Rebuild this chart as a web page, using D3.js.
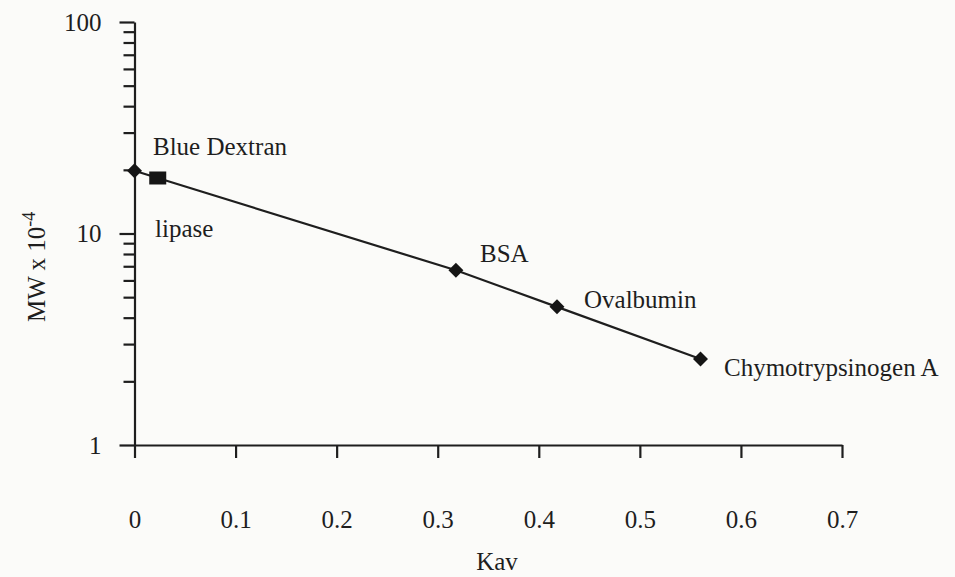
<!DOCTYPE html>
<html>
<head>
<meta charset="utf-8">
<script src="https://cdn.jsdelivr.net/npm/d3@7"></script>
<style>
  body { margin: 0; background: #fbfbf9; }
  text { font-family: "Liberation Serif", "DejaVu Serif", serif; fill: #1e1e1e; }
</style>
</head>
<body>
<div id="chart-area"></div>
<script>
// data
const proteins = ["Blue Dextran", "lipase", "BSA", "Ovalbumin", "Chymotrypsinogen A"];
const kav = [0, 0.023, 0.318, 0.418, 0.560];
const mw = [19.8, 18.3, 6.7, 4.5, 2.55];
const shapes = ["diamond", "square", "diamond", "diamond", "diamond"];
const xTicks = [0, 0.1, 0.2, 0.3, 0.4, 0.5, 0.6, 0.7];
const xTickLabels = ["0", "0.1", "0.2", "0.3", "0.4", "0.5", "0.6", "0.7"];
const yMajor = [1, 10, 100];
const yMinor = [2, 3, 4, 5, 6, 7, 8, 9, 20, 30, 40, 50, 60, 70, 80, 90];

const width = 955, height = 577;
const fs = "25px";

const svg = d3.select("#chart-area")
  .append("svg")
  .attr("width", width)
  .attr("height", height);

const x = d3.scaleLinear().domain([0, 0.7]).range([134.5, 842]);
const y = d3.scaleLog().domain([1, 100]).range([445, 22]);

// axes
const xAxis = svg.append("g")
  .attr("transform", "translate(0,445)")
  .call(d3.axisBottom(x).tickValues(xTicks).tickSize(13).tickSizeOuter(0)
    .tickFormat((d, i) => xTickLabels[i]));
xAxis.selectAll("text").attr("y", 83).attr("dy", "0").attr("font-size", fs);

const yMin = svg.append("g")
  .attr("transform", "translate(134.5,0)")
  .call(d3.axisLeft(y).tickValues(yMinor).tickSize(11).tickSizeOuter(0).tickFormat(""));
yMin.select(".domain").remove();

const yMaj = svg.append("g")
  .attr("transform", "translate(134.5,0)")
  .call(d3.axisLeft(y).tickValues(yMajor).tickSize(15).tickSizeOuter(0).tickFormat(d3.format("d")));
yMaj.selectAll("text").attr("x", -33).attr("dy", "0.33em").attr("font-size", fs);

svg.selectAll(".domain, .tick line")
  .attr("stroke", "#1e1e1e")
  .attr("stroke-width", 2.2);

// axis titles
svg.append("text")
  .attr("x", 497)
  .attr("y", 570)
  .attr("text-anchor", "middle")
  .attr("font-size", fs)
  .text("Kav");

const yTitle = svg.append("text")
  .attr("transform", "translate(45,322) rotate(-90)")
  .attr("font-size", fs);
yTitle.append("tspan").text("MW x 10");
yTitle.append("tspan").attr("dy", "-0.55em").attr("font-size", "18px").text("-4");

// line through the standards
const pts = kav.map((k, i) => ({ k: k, m: mw[i], name: proteins[i], shape: shapes[i] }));
const line = d3.line().x(d => x(d.k)).y(d => y(d.m));

svg.append("path")
  .attr("d", line(pts))
  .attr("fill", "none")
  .attr("stroke", "#1e1e1e")
  .attr("stroke-width", 2.2);

// markers
svg.selectAll(".marker")
  .data(pts)
  .enter()
  .append("path")
  .attr("class", "marker")
  .attr("transform", d => "translate(" + x(d.k) + "," + y(d.m) + ")" + (d.shape === "diamond" ? " rotate(45)" : ""))
  .attr("d", d => d.shape === "diamond"
    ? d3.symbol().type(d3.symbolSquare).size(112)()
    : "M-8.5,-6.5H8.5V6.5H-8.5Z")
  .attr("fill", "#151515");

// point labels
const labelPos = {
  "Blue Dextran": [153, 155],
  "lipase": [155, 237],
  "BSA": [480, 262],
  "Ovalbumin": [584, 308],
  "Chymotrypsinogen A": [724, 376]
};
svg.selectAll(".lbl")
  .data(pts)
  .enter()
  .append("text")
  .attr("class", "lbl")
  .attr("x", d => labelPos[d.name][0])
  .attr("y", d => labelPos[d.name][1])
  .attr("font-size", fs)
  .text(d => d.name);
</script>
</body>
</html>
